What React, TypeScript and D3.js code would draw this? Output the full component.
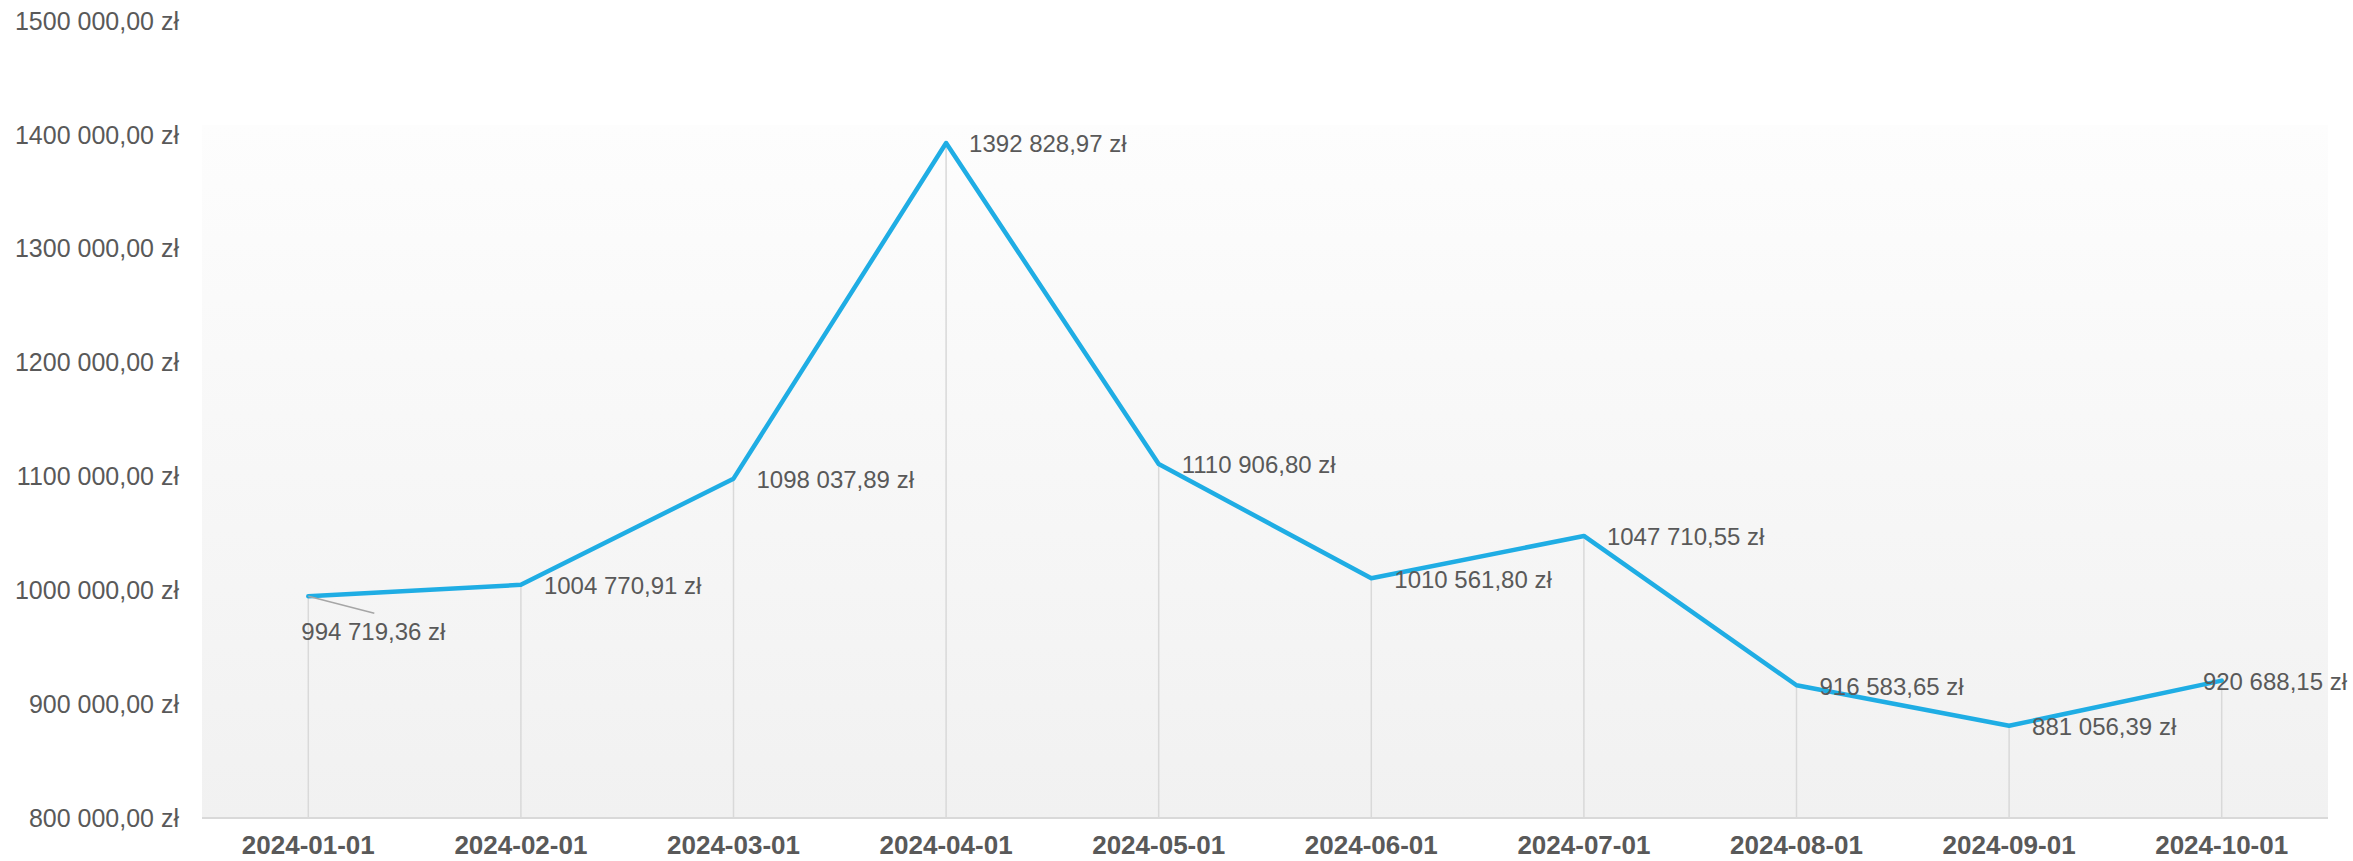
import { useEffect, useRef } from "react";
import * as d3 from "d3";

const months = [
  "2024-01-01", "2024-02-01", "2024-03-01", "2024-04-01", "2024-05-01",
  "2024-06-01", "2024-07-01", "2024-08-01", "2024-09-01", "2024-10-01",
];

const values = [
  994719.36, 1004770.91, 1098037.89, 1392828.97, 1110906.8,
  1010561.8, 1047710.55, 916583.65, 881056.39, 920688.15,
];

const yTicks = [800000, 900000, 1000000, 1100000, 1200000, 1300000, 1400000, 1500000];

// "1392 828,97 zł" style - only the last group gets a space
const fmtPln = (v: number) => {
  const [intPart, dec] = v.toFixed(2).split(".");
  const n = Number(intPart);
  const head = Math.floor(n / 1000);
  const tail = String(n % 1000).padStart(3, "0");
  return `${head > 0 ? head + " " + tail : String(n)},${dec} zł`;
};

export default function App() {
  const svgRef = useRef<SVGSVGElement>(null);

  useEffect(() => {
    if (!svgRef.current) return;
    document.body.style.margin = "0";

    const W = 2353;
    const H = 860;
    const plot = { left: 202, right: 2328, top: 125, bottom: 818 };
    const font = "'Liberation Sans', Arial, sans-serif";
    const textColor = "#595959";

    const svg = d3.select(svgRef.current).attr("width", W).attr("height", H);
    svg.selectAll("*").remove();

    const x = d3.scalePoint<string>().domain(months).range([plot.left, plot.right]).padding(0.5);
    const y = d3.scaleLinear().domain([800000, 1500000]).range([818, 21]);

    // plot area background gradient
    const grad = svg.append("defs").append("linearGradient")
      .attr("id", "bg").attr("x1", 0).attr("x2", 0).attr("y1", 0).attr("y2", 1);
    grad.append("stop").attr("offset", "0%").attr("stop-color", "#fdfdfd");
    grad.append("stop").attr("offset", "100%").attr("stop-color", "#f1f1f1");

    svg.append("rect")
      .attr("x", plot.left).attr("y", plot.top)
      .attr("width", plot.right - plot.left).attr("height", plot.bottom - plot.top)
      .attr("fill", "url(#bg)");

    // drop lines
    svg.selectAll(".drop")
      .data(values).enter().append("line")
      .attr("x1", (_, i) => x(months[i])!).attr("x2", (_, i) => x(months[i])!)
      .attr("y1", (d) => y(d)).attr("y2", plot.bottom)
      .attr("stroke", "#d9d9d9").attr("stroke-width", 1.5);

    // x axis line
    svg.append("line")
      .attr("x1", plot.left).attr("x2", plot.right)
      .attr("y1", plot.bottom).attr("y2", plot.bottom)
      .attr("stroke", "#d9d9d9").attr("stroke-width", 2);

    // y labels
    svg.selectAll(".y-label")
      .data(yTicks).enter().append("text")
      .attr("x", 179).attr("y", (d) => y(d))
      .attr("dy", "0.35em").attr("text-anchor", "end")
      .attr("fill", textColor).attr("font-size", "25px").attr("font-family", font)
      .text((d) => fmtPln(d));

    // x labels
    svg.selectAll(".x-label")
      .data(months).enter().append("text")
      .attr("x", (d) => x(d)!).attr("y", 845)
      .attr("dy", "0.35em").attr("text-anchor", "middle")
      .attr("fill", textColor).attr("font-size", "26px").attr("font-weight", "700").attr("font-family", font)
      .text((d) => d);

    // series line
    const line = d3.line<number>()
      .x((_, i) => x(months[i])!)
      .y((d) => y(d));
    svg.append("path")
      .datum(values)
      .attr("d", line)
      .attr("fill", "none").attr("stroke", "#1fade4").attr("stroke-width", 4.5)
      .attr("stroke-linejoin", "round").attr("stroke-linecap", "round");

    // data labels
    values.forEach((v, i) => {
      const px = x(months[i])!;
      const py = y(v);
      const t = svg.append("text")
        .attr("fill", textColor).attr("font-size", "24px").attr("font-family", font)
        .attr("dy", "0.35em")
        .text(fmtPln(v));
      const tw = (t.node() as SVGTextElement).getComputedTextLength();
      if (i === 0) {
        // label pushed below with a leader line
        svg.append("line")
          .attr("x1", px).attr("y1", py).attr("x2", px + 66).attr("y2", py + 17)
          .attr("stroke", "#a6a6a6").attr("stroke-width", 1.5);
        t.attr("x", px - 7).attr("y", py + 35);
      } else {
        t.attr("x", Math.min(px + 23, W - 6 - tw)).attr("y", py + 1);
      }
    });
  }, []);

  return <svg ref={svgRef} style={{ display: "block" }} />;
}
